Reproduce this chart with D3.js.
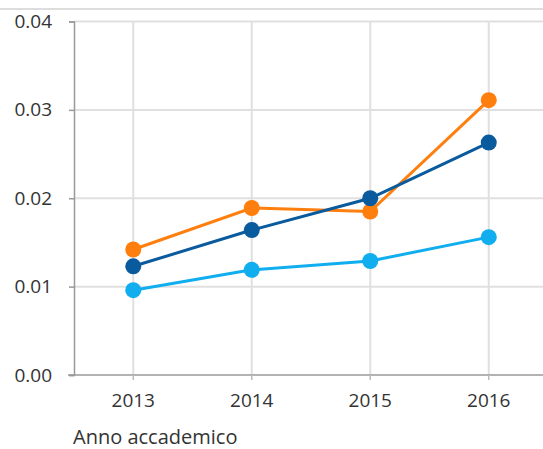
<!DOCTYPE html>
<html>
<head>
<meta charset="utf-8">
<script src="https://cdn.jsdelivr.net/npm/d3@7"></script>
<style>
  body { margin: 0; background: #fff; }
  text { font-family: "Open Sans", sans-serif; fill: #333; }
</style>
</head>
<body>
<div id="chart"></div>
<script>
const width = 543, height = 449;

// data
const years = ["2013", "2014", "2015", "2016"];
const darkBlue = [0.0123, 0.0164, 0.0200, 0.0263];
const orange = [0.0142, 0.0189, 0.0185, 0.0311];
const lightBlue = [0.0096, 0.0119, 0.0129, 0.0156];
const yTicks = [0, 0.01, 0.02, 0.03, 0.04];

const series = [
    { name: "orange", values: orange, color: "#ff7f0e" },
    { name: "darkBlue", values: darkBlue, color: "#0a5a9e" },
    { name: "lightBlue", values: lightBlue, color: "#10aeef" }
];

const svg = d3.select("#chart").append("svg")
    .attr("width", width)
    .attr("height", height);

// thin border line at the top
svg.append("line")
    .attr("x1", 0).attr("x2", width)
    .attr("y1", 9).attr("y2", 9)
    .attr("stroke", "#ddd")
    .attr("stroke-width", 2);

const x = d3.scaleBand()
    .domain(years)
    .range([74, 548]);

const y = d3.scaleLinear()
    .domain([0, 0.04])
    .range([375, 21.5]);

// gridlines
svg.append("g")
    .selectAll("line")
    .data(yTicks.slice(1))
    .enter().append("line")
    .attr("x1", 74).attr("x2", width)
    .attr("y1", d => y(d)).attr("y2", d => y(d))
    .attr("stroke", "#e0e0e0")
    .attr("stroke-width", 2);

svg.append("g")
    .selectAll("line")
    .data(years)
    .enter().append("line")
    .attr("x1", d => x(d) + x.bandwidth() / 2)
    .attr("x2", d => x(d) + x.bandwidth() / 2)
    .attr("y1", y(0.04)).attr("y2", y(0))
    .attr("stroke", "#e0e0e0")
    .attr("stroke-width", 2);

// y axis
const yAxis = svg.append("g")
    .attr("transform", "translate(74,0)")
    .call(d3.axisLeft(y).tickValues(yTicks).tickFormat(d3.format(".2f")).tickSize(5).tickPadding(17));
yAxis.select(".domain").attr("stroke", "#999").attr("stroke-width", 1.5);
yAxis.selectAll(".tick line").attr("stroke", "#999").attr("stroke-width", 1.5);
yAxis.selectAll("text").style("font-size", "19px").attr("fill", "#333");

// x axis
const xAxis = svg.append("g")
    .attr("transform", `translate(0,${y(0)})`)
    .call(d3.axisBottom(x).tickSize(5).tickSizeOuter(0).tickPadding(14));
xAxis.select(".domain").attr("d", `M68,0H${width}`).attr("stroke", "#999").attr("stroke-width", 1.5);
xAxis.selectAll(".tick line").attr("stroke", "#bbb").attr("stroke-width", 1.5);
xAxis.selectAll("text").style("font-size", "19px").attr("fill", "#333");

svg.append("text")
    .attr("x", 73)
    .attr("y", 444)
    .style("font-size", "20px")
    .text("Anno accademico");

const line = d3.line()
    .x((d, i) => x(years[i]) + x.bandwidth() / 2)
    .y(d => y(d));

series.forEach(s => {
    const g = svg.append("g");
    g.append("path")
        .datum(s.values)
        .attr("d", line)
        .attr("fill", "none")
        .attr("stroke", s.color)
        .attr("stroke-width", 3);
    g.selectAll("circle")
        .data(s.values)
        .enter().append("circle")
        .attr("cx", (d, i) => x(years[i]) + x.bandwidth() / 2)
        .attr("cy", d => y(d))
        .attr("r", 8)
        .attr("fill", s.color);
});
</script>
</body>
</html>
